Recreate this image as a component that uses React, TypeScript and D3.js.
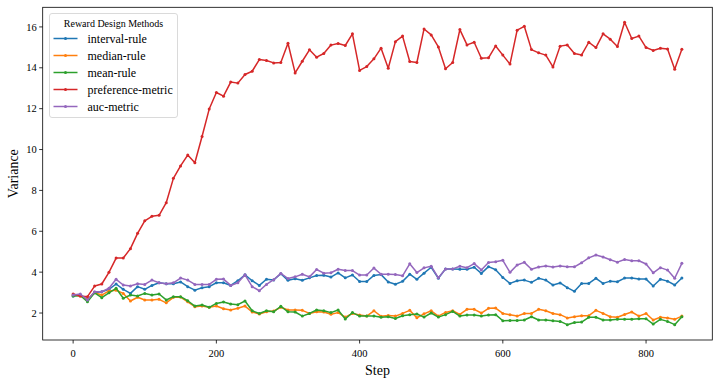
import React from "react";
import * as d3 from "d3";

const steps: number[] = d3.range(0, 860, 10);

const intervalRule: number[] = [
  2.83, 2.88, 2.64, 3.01, 3.04, 3.16, 3.42, 3.16, 2.96, 3.29, 3.16, 3.35, 3.48, 3.43, 3.43,
  3.52, 3.29, 3.12, 3.24, 3.29, 3.48, 3.48, 3.35, 3.58, 3.87, 3.58, 3.35, 3.65, 3.62,
  3.92, 3.60, 3.68, 3.60, 3.72, 3.84, 3.85, 3.76, 3.96, 3.72, 3.86, 3.54, 3.54, 3.84, 3.88, 3.52,
  3.41, 3.55, 3.90, 3.65, 3.95, 4.24, 3.70, 4.16, 4.16, 4.14, 4.14, 4.24, 3.94, 4.27, 4.12,
  3.74, 3.45, 3.58, 3.61, 3.50, 3.70, 3.61, 3.37, 3.47, 3.24, 3.06, 3.45, 3.45, 3.70, 3.45,
  3.56, 3.53, 3.71, 3.71, 3.66, 3.66, 3.32, 3.65, 3.56, 3.37, 3.71,
];

const medianRule: number[] = [
  2.88, 2.83, 2.67, 2.99, 2.88, 3.08, 3.12, 2.96, 2.59, 2.77, 2.64, 2.64, 2.67, 2.50, 2.77,
  2.78, 2.55, 2.31, 2.34, 2.28, 2.34, 2.21, 2.15, 2.23, 2.34, 2.05, 1.95, 2.06, 2.10, 2.28,
  2.15, 2.15, 2.13, 1.98, 2.06, 2.05, 1.94, 2.02, 1.80, 1.98, 1.90, 1.85, 2.11, 1.84, 1.88,
  1.85, 1.98, 2.13, 1.77, 1.96, 2.11, 1.85, 2.03, 2.11, 1.93, 2.18, 2.18, 2.00, 2.23, 2.24,
  1.98, 1.92, 1.85, 1.98, 1.98, 2.18, 2.11, 1.98, 1.92, 1.76, 1.82, 1.87, 1.87, 2.13, 1.98,
  1.82, 1.79, 1.93, 2.05, 1.85, 1.98, 1.66, 1.79, 1.76, 1.69, 1.85,
];

const meanRule: number[] = [
  2.83, 2.86, 2.55, 2.99, 2.75, 2.99, 3.21, 2.72, 2.88, 2.83, 2.96, 2.88, 2.93, 2.64, 2.80,
  2.80, 2.60, 2.34, 2.39, 2.28, 2.47, 2.54, 2.44, 2.41, 2.59, 2.11, 1.98, 2.11, 2.06, 2.33,
  2.06, 2.05, 1.85, 1.98, 2.15, 2.11, 2.02, 2.15, 1.71, 2.02, 1.85, 1.85, 1.85, 1.79, 1.82,
  1.73, 1.87, 1.91, 1.95, 1.80, 2.00, 1.80, 1.92, 2.08, 1.85, 1.90, 1.90, 1.85, 1.90, 1.92,
  1.62, 1.64, 1.64, 1.66, 1.82, 1.66, 1.66, 1.62, 1.59, 1.43, 1.54, 1.56, 1.79, 1.79, 1.66,
  1.66, 1.69, 1.70, 1.69, 1.72, 1.72, 1.46, 1.69, 1.59, 1.43, 1.82,
];

const preferenceMetric: number[] = [
  2.93, 2.83, 2.80, 3.32, 3.42, 3.99, 4.69, 4.69, 5.15, 5.90, 6.51, 6.73, 6.78, 7.40, 8.59,
  9.20, 9.73, 9.35, 10.64, 11.98, 12.79, 12.61, 13.30, 13.25, 13.67, 13.83, 14.40, 14.36, 14.24,
  14.26, 15.20, 13.75, 14.32, 14.88, 14.52, 14.70, 15.11, 15.19, 15.09, 15.66, 13.87, 14.06,
  14.44, 14.96, 13.98,
  15.28, 15.55, 14.31, 14.26, 15.90, 15.61, 15.02, 13.95, 14.26, 15.87, 15.12, 15.25, 14.47,
  14.49, 15.07, 14.62, 14.18, 15.84, 16.03, 14.89, 14.73, 14.62, 14.04, 15.06, 15.11, 14.70,
  14.63, 15.25, 14.99, 15.66, 15.40, 15.04, 16.23, 15.43, 15.55, 14.99, 14.85, 14.96, 14.92,
  13.93, 14.91,
];

const aucMetric: number[] = [
  2.88, 2.93, 2.64, 3.04, 3.04, 3.21, 3.65, 3.37, 3.32, 3.43, 3.40, 3.61, 3.48, 3.43, 3.48,
  3.71, 3.61, 3.40, 3.40, 3.40, 3.65, 3.66, 3.35, 3.48, 3.87, 3.29, 3.09, 3.40, 3.63,
  3.94, 3.69, 3.77, 3.90, 3.77, 4.13, 3.95, 3.97, 4.14, 4.08, 4.08, 3.86, 3.86, 4.20, 3.90, 3.90,
  3.89, 3.82, 4.41, 3.98, 4.21, 4.29, 3.72, 4.15, 4.16, 4.29, 4.22, 4.42, 4.11, 4.47, 4.51,
  4.58, 3.99, 4.35, 4.48, 4.14, 4.25, 4.30, 4.25, 4.30, 4.26, 4.26, 4.46, 4.70, 4.84, 4.74,
  4.61, 4.49, 4.62, 4.56, 4.56, 4.40, 3.97, 4.22, 4.10, 3.70, 4.43,
];

const seriesNames: string[] = ["interval-rule", "median-rule", "mean-rule", "preference-metric", "auc-metric"];
const seriesColors: string[] = ["#1f77b4", "#ff7f0e", "#2ca02c", "#d62728", "#9467bd"];
const seriesValues: number[][] = [intervalRule, medianRule, meanRule, preferenceMetric, aucMetric];

const xTicks: number[] = [0, 200, 400, 600, 800];
const yTicks: number[] = [2, 4, 6, 8, 10, 12, 14, 16];

const W = 720;
const H = 382;
const L = 42.7, R = 712.3, T = 7.3, B = 340;
const FONT = "'Liberation Serif', 'Times New Roman', serif";

export default function App() {
  const x = d3.scaleLinear().domain([-42.5, 892.5]).range([L, R]);
  const y = d3.scaleLinear().domain([0.68, 16.96]).range([B, T]);
  const line = d3
    .line<number>()
    .x((_, i) => x(steps[i]))
    .y((d) => y(d));

  const legendX = 49.5, legendY = 13.5, legendW = 128, legendH = 104;

  return (
    <svg width={W} height={H} style={{ position: "absolute", left: 0, top: 0, background: "#fff" }} fontFamily={FONT}>
      <rect x={0} y={0} width={W} height={H} fill="#fff" />
      {seriesValues.map((vals, si) => (
        <g key={si}>
          <path d={line(vals) || ""} fill="none" stroke={seriesColors[si]} strokeWidth={1.5} strokeLinejoin="round" />
          {vals.map((v, i) => (
            <circle key={i} cx={x(steps[i])} cy={y(v)} r={1.5} fill={seriesColors[si]} />
          ))}
        </g>
      ))}
      <rect x={L} y={T} width={R - L} height={B - T} fill="none" stroke="#000" strokeWidth={0.8} />
      {xTicks.map((t) => (
        <g key={t}>
          <line x1={x(t)} x2={x(t)} y1={B} y2={B + 3.5} stroke="#000" strokeWidth={0.8} />
          <text x={x(t)} y={356.5} textAnchor="middle" fontSize={10.5} fill="#000">
            {t}
          </text>
        </g>
      ))}
      {yTicks.map((t) => (
        <g key={t}>
          <line x1={L - 3.5} x2={L} y1={y(t)} y2={y(t)} stroke="#000" strokeWidth={0.8} />
          <text x={L - 6} y={y(t) + 3.6} textAnchor="end" fontSize={10.5} fill="#000">
            {t}
          </text>
        </g>
      ))}
      <text x={(L + R) / 2} y={375} textAnchor="middle" fontSize={14} fill="#000">
        Step
      </text>
      <text transform={`translate(17.5, ${(T + B) / 2}) rotate(-90)`} textAnchor="middle" fontSize={14} fill="#000">
        Variance
      </text>
      <g>
        <rect x={legendX} y={legendY} width={legendW} height={legendH} rx={2.5} fill="#fff" fillOpacity={0.8} stroke="#d0d0d0" strokeWidth={0.8} />
        <text x={legendX + legendW / 2} y={26.5} textAnchor="middle" fontSize={10} fill="#000">
          Reward Design Methods
        </text>
        {seriesNames.map((name, i) => {
          const yy = 38.5 + i * 17;
          return (
            <g key={name}>
              <line x1={53.5} x2={77.5} y1={yy} y2={yy} stroke={seriesColors[i]} strokeWidth={1.5} />
              <circle cx={65.5} cy={yy} r={1.5} fill={seriesColors[i]} />
              <text x={87.5} y={yy + 4} fontSize={12} fill="#000">
                {name}
              </text>
            </g>
          );
        })}
      </g>
    </svg>
  );
}
